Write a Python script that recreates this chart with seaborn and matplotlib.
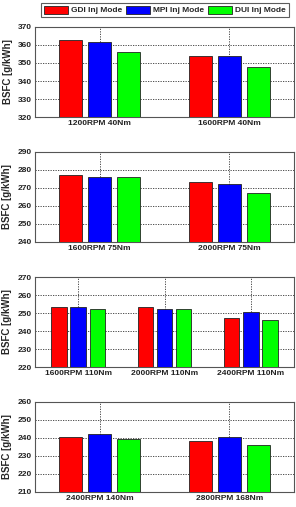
import matplotlib
matplotlib.use("Agg")
import matplotlib.pyplot as plt
import seaborn as sns
import pandas as pd

modes = ["GDI Inj Mode", "MPI Inj Mode", "DUI Inj Mode"]
colors = ["#ff0000", "#0000ff", "#00ff00"]

p1_conditions = ["1200RPM 40Nm", "1600RPM 40Nm"]
p1_gdi = [363, 353.7]
p1_mpi = [361.5, 353.7]
p1_dui = [356, 348]
p1_ylim = (320, 370)

p2_conditions = ["1600RPM 75Nm", "2000RPM 75Nm"]
p2_gdi = [277, 273.5]
p2_mpi = [276, 272]
p2_dui = [276, 267]
p2_ylim = (240, 290)

p3_conditions = ["1600RPM 110Nm", "2000RPM 110Nm", "2400RPM 110Nm"]
p3_gdi = [253.4, 253.4, 247]
p3_mpi = [253.4, 252, 250.4]
p3_dui = [252, 252, 246]
p3_ylim = (220, 270)

p4_conditions = ["2400RPM 140Nm", "2800RPM 168Nm"]
p4_gdi = [240.4, 238.4]
p4_mpi = [242.3, 240.4]
p4_dui = [239.3, 236]
p4_ylim = (210, 260)

panels = [
    (p1_conditions, p1_gdi, p1_mpi, p1_dui, p1_ylim),
    (p2_conditions, p2_gdi, p2_mpi, p2_dui, p2_ylim),
    (p3_conditions, p3_gdi, p3_mpi, p3_dui, p3_ylim),
    (p4_conditions, p4_gdi, p4_mpi, p4_dui, p4_ylim),
]

sns.set_theme(style="white")
plt.rcParams['font.family'] = ['Liberation Sans', 'DejaVu Sans']

W, H = 296, 507
fig = plt.figure(figsize=(W / 100, H / 100), dpi=100)
fig.patch.set_facecolor("white")

tops = [27, 152, 277, 402]
ax_h = 90
left_px, width_px = 35, 259

first_ax = None
for (conds, gdi, mpi, dui, ylim), top in zip(panels, tops):
    ax = fig.add_axes([left_px / W, 1 - (top + ax_h) / H, width_px / W, ax_h / H])
    rows = []
    for m, vals in zip(modes, [gdi, mpi, dui]):
        for c, v in zip(conds, vals):
            rows.append({"cond": c, "mode": m, "bsfc": v})
    df = pd.DataFrame(rows)
    sns.barplot(data=df, x="cond", y="bsfc", hue="mode", order=conds,
                hue_order=modes, palette=colors, saturation=1, width=0.67, gap=0.2,
                edgecolor="#222222", linewidth=0.6, ax=ax, legend=(first_ax is None),
                zorder=3)
    ax.set_ylim(*ylim)
    ax.set_xlim(-0.5, len(conds) - 0.5)
    ax.set_yticks(range(ylim[0], ylim[1] + 1, 10))
    ax.set_xlabel("")
    ax.set_ylabel("BSFC [g/kWh]", fontsize=7, fontweight="bold", labelpad=4)
    ax.grid(True, linestyle=(0, (1.5, 1.5)), color="#333333", linewidth=0.6, zorder=0)
    ax.set_axisbelow(True)
    ax.tick_params(axis="both", labelsize=6, direction="in", length=2,
                   width=0.5, pad=2, colors="#222222")
    for lab in ax.get_xticklabels() + ax.get_yticklabels():
        lab.set_fontweight("bold")
    for s in ax.spines.values():
        s.set_color("#555555")
        s.set_linewidth(0.8)
    if first_ax is None:
        first_ax = ax
        handles, labels = ax.get_legend_handles_labels()
        ax.get_legend().remove()

leg = fig.legend(handles, labels, ncol=3, loc="center",
                 bbox_to_anchor=(165 / W, 1 - 10 / H),
                 frameon=True, fancybox=False, edgecolor="#333333",
                 handlelength=2.8, handleheight=1.1, columnspacing=0.5,
                 handletextpad=0.4, borderpad=0.35, borderaxespad=0,
                 prop={"size": 6, "weight": "bold"})
leg.get_frame().set_linewidth(0.8)

fig.savefig("out.png", dpi=100)
